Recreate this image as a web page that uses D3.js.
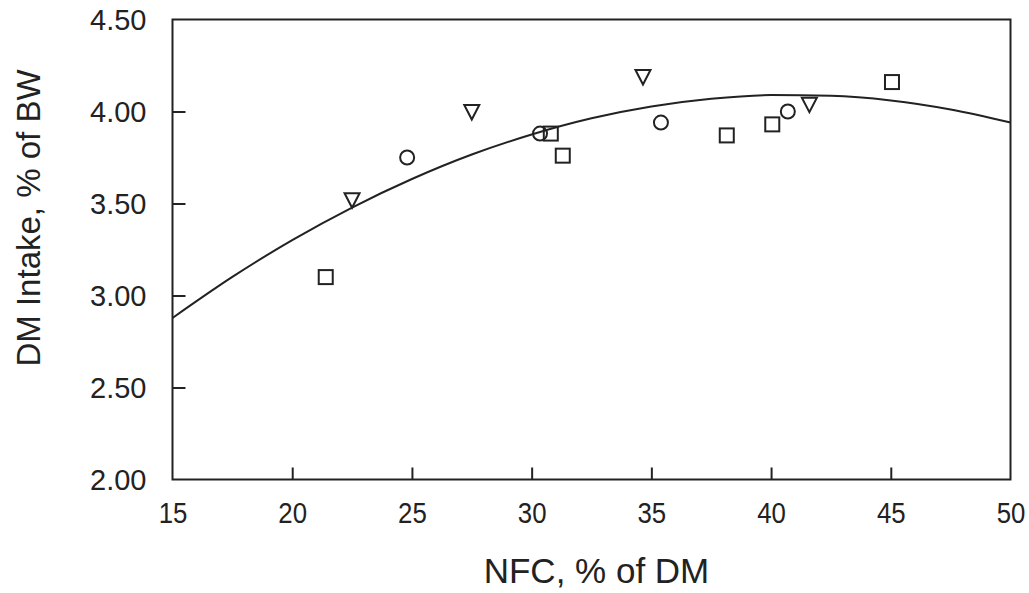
<!DOCTYPE html>
<html>
<head>
<meta charset="utf-8">
<script src="https://cdn.jsdelivr.net/npm/d3@7"></script>
<style>
  html, body { margin: 0; padding: 0; background: #fff; }
  svg { display: block; font-family: "Liberation Sans", Arial, sans-serif; }
</style>
</head>
<body>
<svg id="chart"></svg>
<script>
// observed points, one array per marker shape
const squareX = [21.4, 30.8, 31.3, 38.15, 40.05, 45.05]
const squareY = [3.10, 3.88, 3.76, 3.87, 3.93, 4.16]
const circleX = [24.8, 30.35, 35.4, 40.7]
const circleY = [3.75, 3.88, 3.94, 4.00]
const triangleX = [22.5, 27.5, 34.65, 41.6]
const triangleY = [3.52, 4.00, 4.19, 4.04]

// fitted curve
const curveX = [15, 17.5, 20, 22.5, 25, 27.5, 30, 32.5, 35, 37.5, 40, 42.5, 45, 47.5, 50]
const curveY = [2.878, 3.101, 3.301, 3.478, 3.633, 3.766, 3.875, 3.963, 4.027, 4.069, 4.089, 4.085, 4.060, 4.011, 3.940]

const xTicks = [15, 20, 25, 30, 35, 40, 45, 50]
const yTicks = [2.0, 2.5, 3.0, 3.5, 4.0, 4.5]

const width = 1029
const height = 593
const margin = {top: 19.5, right: 18.5, bottom: 113.5, left: 172.5}
const ink = '#222'

const svg = d3.select('#chart')
  .attr('width', width)
  .attr('height', height)

const x = d3.scaleLinear()
  .domain([15, 50])
  .range([margin.left, width - margin.right])
const y = d3.scaleLinear()
  .domain([2, 4.5])
  .range([height - margin.bottom, margin.top])

// inward ticks, labels outside
const xAxis = svg.append('g')
  .attr('transform', `translate(0,${height - margin.bottom})`)
  .call(d3.axisBottom(x).tickValues(xTicks).tickSizeInner(-12).tickSizeOuter(0).tickPadding(22))
const yAxis = svg.append('g')
  .attr('transform', `translate(${margin.left},0)`)
  .call(d3.axisLeft(y).tickValues(yTicks).tickFormat(d3.format('.2f')).tickSizeInner(-13).tickSizeOuter(0).tickPadding(26))

for (const ax of [xAxis, yAxis]) {
  ax.select('.domain').remove()
  ax.selectAll('.tick line').attr('stroke', ink).attr('stroke-width', 2)
  ax.selectAll('.tick text')
    .attr('fill', ink)
    .attr('font-size', 29)
    .attr('font-family', '"Liberation Sans", Arial, sans-serif')
}
// x labels in the original are a bit narrow
xAxis.selectAll('.tick text')
  .attr('dy', '0.71em')
  .attr('font-size', 30)
  .attr('transform', 'scale(0.86,1)')
// edge ticks sit on the frame, hide their marks
xAxis.selectAll('.tick').filter(d => d === 15 || d === 50).select('line').remove()
yAxis.selectAll('.tick').filter(d => d === 2 || d === 4.5).select('line').remove()
yAxis.selectAll('.tick text').attr('dy', '0.36em')

// frame
svg.append('rect')
  .attr('x', x(15))
  .attr('y', y(4.5))
  .attr('width', x(50) - x(15))
  .attr('height', y(2) - y(4.5))
  .attr('fill', 'none')
  .attr('stroke', ink)
  .attr('stroke-width', 2)

// fitted curve
const line = d3.line()
  .x(d => x(d[0]))
  .y(d => y(d[1]))
  .curve(d3.curveMonotoneX)
svg.append('path')
  .datum(d3.zip(curveX, curveY))
  .attr('d', line)
  .attr('fill', 'none')
  .attr('stroke', ink)
  .attr('stroke-width', 2)

const markers = svg.append('g')
  .attr('fill', 'none')
  .attr('stroke', ink)
  .attr('stroke-width', 2)

markers.selectAll('rect.sq')
  .data(d3.zip(squareX, squareY))
  .join('rect')
  .attr('class', 'sq')
  .attr('x', d => x(d[0]) - 7)
  .attr('y', d => y(d[1]) - 7)
  .attr('width', 14)
  .attr('height', 14)

markers.selectAll('circle')
  .data(d3.zip(circleX, circleY))
  .join('circle')
  .attr('cx', d => x(d[0]))
  .attr('cy', d => y(d[1]))
  .attr('r', 7)

markers.selectAll('path.tri')
  .data(d3.zip(triangleX, triangleY))
  .join('path')
  .attr('class', 'tri')
  .attr('d', d => {
    const cx = x(d[0]), cy = y(d[1])
    return `M${cx - 7.5},${cy - 6.5}L${cx + 7.5},${cy - 6.5}L${cx},${cy + 8}Z`
  })

// axis titles
svg.append('text')
  .attr('x', (x(15) + x(50)) / 2 + 5)
  .attr('y', 583)
  .attr('text-anchor', 'middle')
  .attr('font-size', 35)
  .attr('fill', ink)
  .text('NFC, % of DM')

svg.append('text')
  .attr('transform', `translate(40,218) rotate(-90)`)
  .attr('text-anchor', 'middle')
  .attr('font-size', 33)
  .attr('fill', ink)
  .text('DM Intake, % of BW')
</script>
</body>
</html>
